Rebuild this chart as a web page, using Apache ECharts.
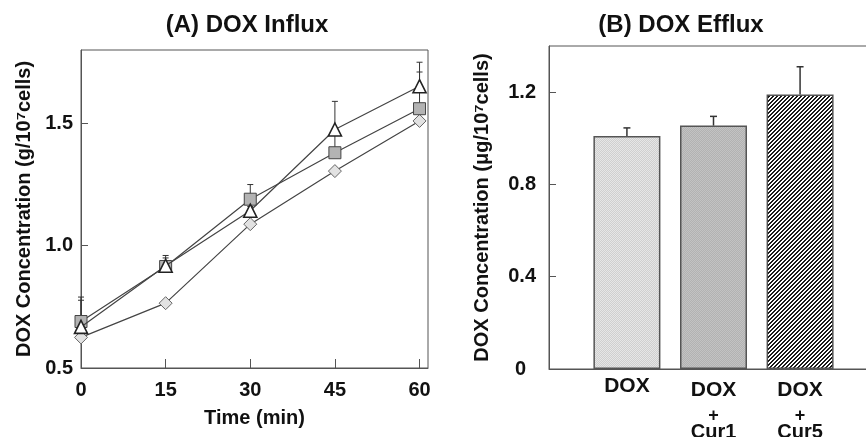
<!DOCTYPE html>
<html>
<head>
<meta charset="utf-8">
<script src="https://cdn.jsdelivr.net/npm/echarts@6/dist/echarts.min.js"></script>
<style>
  html, body { margin: 0; padding: 0; background: #fff; }
  #chart { width: 866px; height: 437px; }
</style>
</head>
<body>
<div id="chart"></div>
<script>
// (A) influx, time course
var times = [0, 15, 30, 45, 60];
var squareMean = [0.69, 0.915, 1.19, 1.38, 1.56];
var squareUpper = [0.79, 0.96, 1.25, 1.48, 1.71];
var triangleMean = [0.668, 0.918, 1.143, 1.475, 1.652];
var triangleUpper = [0.777, 0.95, 1.16, 1.59, 1.75];
var diamondMean = [0.625, 0.765, 1.088, 1.305, 1.51];
var influxTicks = [0.5, 1.0, 1.5];
var timeTicks = [0, 15, 30, 45, 60];

// (B) efflux, bars
var groups = ['DOX', 'DOX\n+\nCur1', 'DOX\n+\nCur5'];
var groupPos = [1, 2, 3];
var effluxMean = [1.01, 1.055, 1.19];
var effluxUpper = [1.045, 1.095, 1.31];
var effluxTicks = [0, 0.4, 0.8, 1.2];

var FONT = 'Liberation Sans, Arial, Helvetica, sans-serif';

// little tile patterns for the bar fills
function tile(size, painter) {
  var c = document.createElement('canvas');
  c.width = size; c.height = size;
  var ctx = c.getContext('2d');
  for (var y = 0; y < size; y++) {
    for (var x = 0; x < size; x++) {
      ctx.fillStyle = painter(x, y);
      ctx.fillRect(x, y, 1, 1);
    }
  }
  return { image: c, repeat: 'repeat' };
}
var fillDox = tile(2, function (x, y) { return (x + y) % 2 ? '#cfcfcf' : '#e6e6e6'; });
var fillCur1 = tile(2, function (x, y) { return (x + y) % 2 ? '#b2b2b2' : '#c3c3c3'; });
var fillCur5 = tile(4, function (x, y) { return ((x + y) % 4 < 2) ? '#1a1a1a' : '#ffffff'; });
var barFills = [fillDox, fillCur1, fillCur5];

function zip(xs, ys) {
  return xs.map(function (x, i) { return [x, ys[i]]; });
}
function zip3(xs, a, b) {
  return xs.map(function (x, i) { return [x, a[i], b[i]]; });
}

function errorBars(capHalf, width) {
  return function (params, api) {
    var p0 = api.coord([api.value(0), api.value(1)]);
    var p1 = api.coord([api.value(0), api.value(2)]);
    var st = { stroke: '#333', lineWidth: width };
    return {
      type: 'group',
      children: [
        { type: 'line', shape: { x1: p0[0], y1: p0[1], x2: p1[0], y2: p1[1] }, style: st },
        { type: 'line', shape: { x1: p1[0] - capHalf, y1: p1[1], x2: p1[0] + capHalf, y2: p1[1] }, style: st }
      ]
    };
  };
}

var tickLabel = { fontFamily: FONT, fontWeight: 'bold', fontSize: 20, color: '#111' };
var nameStyle = { fontFamily: FONT, fontWeight: 'bold', fontSize: 20, color: '#111' };
var axisLine = { show: true, lineStyle: { color: '#555', width: 1 } };

var chart = echarts.init(document.getElementById('chart'));
chart.setOption({
  animation: false,
  backgroundColor: '#fff',
  graphic: [
    { type: 'text', x: 247, y: 25, style: { text: '(A) DOX Influx', fontFamily: FONT, fontWeight: 'bold', fontSize: 24, fill: '#111', align: 'center', verticalAlign: 'middle' } },
    { type: 'text', x: 681, y: 25, style: { text: '(B) DOX Efflux', fontFamily: FONT, fontWeight: 'bold', fontSize: 24, fill: '#111', align: 'center', verticalAlign: 'middle' } }
  ],
  grid: [
    { left: 81, top: 50, right: 438, bottom: 69, outerBoundsMode: 'none', show: true, borderColor: '#555', borderWidth: 1 },
    { left: 549, top: 46, right: -12, bottom: 68, outerBoundsMode: 'none', show: true, borderColor: '#555', borderWidth: 1 }
  ],
  xAxis: [
    {
      gridIndex: 0, type: 'value', min: 0, max: 61.5,
      name: 'Time (min)', nameLocation: 'middle', nameGap: 40, nameTextStyle: nameStyle,
      axisLine: axisLine,
      axisTick: { show: true, inside: true, length: 9, customValues: timeTicks, lineStyle: { color: '#555' } },
      axisLabel: Object.assign({ margin: 12, customValues: timeTicks }, tickLabel),
      splitLine: { show: false }
    },
    {
      gridIndex: 1, type: 'value', min: 0.1, max: 3.9,
      axisLine: axisLine,
      axisTick: { show: false },
      axisLabel: {
        margin: 6, customValues: groupPos,
        formatter: function (v) {
          var i = Math.round(v) - 1;
          var parts = groups[i].split('\n');
          if (parts.length === 1) return '{a|' + parts[0] + '}';
          return '{b|' + parts[0] + '}\n{p|' + parts[1] + '}\n{c|' + parts[2] + '}';
        },
        rich: {
          a: { fontFamily: FONT, fontWeight: 'bold', fontSize: 21, color: '#111', lineHeight: 22 },
          b: { fontFamily: FONT, fontWeight: 'bold', fontSize: 21, color: '#111', lineHeight: 30 },
          p: { fontFamily: FONT, fontWeight: 'bold', fontSize: 18, color: '#111', lineHeight: 22 },
          c: { fontFamily: FONT, fontWeight: 'bold', fontSize: 20, color: '#111', lineHeight: 10 }
        }
      },
      splitLine: { show: false }
    }
  ],
  yAxis: [
    {
      gridIndex: 0, type: 'value', min: 0.5, max: 1.8,
      name: 'DOX Concentration (g/10\u2077cells)', nameLocation: 'middle', nameRotate: 90, nameGap: 47,
      nameTextStyle: nameStyle,
      axisLine: axisLine,
      axisTick: { show: true, inside: true, length: 7, customValues: influxTicks, lineStyle: { color: '#555' } },
      axisLabel: Object.assign({ margin: 8, customValues: influxTicks, formatter: function (v) { return v.toFixed(1); } }, tickLabel),
      splitLine: { show: false }
    },
    {
      gridIndex: 1, type: 'value', min: 0, max: 1.4,
      name: 'DOX Concentration (\u03bcg/10\u2077cells)', nameLocation: 'middle', nameRotate: 90, nameGap: 57,
      nameTextStyle: nameStyle,
      axisLine: axisLine,
      axisTick: { show: true, inside: true, length: 7, customValues: effluxTicks, lineStyle: { color: '#555' } },
      axisLabel: Object.assign({
        margin: 13, customValues: effluxTicks,
        formatter: function (v) { return v === 0 ? '{z|0}' : v.toFixed(1); },
        rich: { z: { fontFamily: FONT, fontWeight: 'bold', fontSize: 20, color: '#111', padding: [0, 10, 0, 0] } }
      }, tickLabel),
      splitLine: { show: false }
    }
  ],
  series: [
    // error bars under the markers
    { type: 'custom', xAxisIndex: 0, yAxisIndex: 0, z: 1, renderItem: errorBars(3, 1), encode: { x: 0, y: [1, 2] }, data: zip3(times, squareMean, squareUpper) },
    { type: 'custom', xAxisIndex: 0, yAxisIndex: 0, z: 1, renderItem: errorBars(3, 1), encode: { x: 0, y: [1, 2] }, data: zip3(times, triangleMean, triangleUpper) },
    {
      name: 'diamond', type: 'line', xAxisIndex: 0, yAxisIndex: 0, z: 2,
      data: zip(times, diamondMean),
      symbol: 'diamond', symbolSize: [13, 13],
      lineStyle: { color: '#444', width: 1.2 },
      itemStyle: { color: '#e2e2e2', borderColor: '#666', borderWidth: 1 }
    },
    {
      name: 'square', type: 'line', xAxisIndex: 0, yAxisIndex: 0, z: 3,
      data: zip(times, squareMean),
      symbol: 'rect', symbolSize: 12,
      lineStyle: { color: '#444', width: 1.2 },
      itemStyle: { color: '#b3b3b3', borderColor: '#444', borderWidth: 1 }
    },
    {
      name: 'triangle', type: 'line', xAxisIndex: 0, yAxisIndex: 0, z: 4,
      data: zip(times, triangleMean),
      symbol: 'triangle', symbolSize: 13,
      lineStyle: { color: '#444', width: 1.2 },
      itemStyle: { color: '#fff', borderColor: '#222', borderWidth: 1.6 }
    },
    {
      type: 'bar', xAxisIndex: 1, yAxisIndex: 1, barWidth: 67, z: 2,
      data: groupPos.map(function (x, i) {
        return { value: [x, effluxMean[i]], itemStyle: { color: barFills[i], borderColor: '#555', borderWidth: 1.5 } };
      })
    },
    { type: 'custom', xAxisIndex: 1, yAxisIndex: 1, z: 3, renderItem: errorBars(3.5, 1.5), encode: { x: 0, y: [1, 2] }, data: zip3(groupPos, effluxMean, effluxUpper) }
  ]
});
</script>
</body>
</html>
